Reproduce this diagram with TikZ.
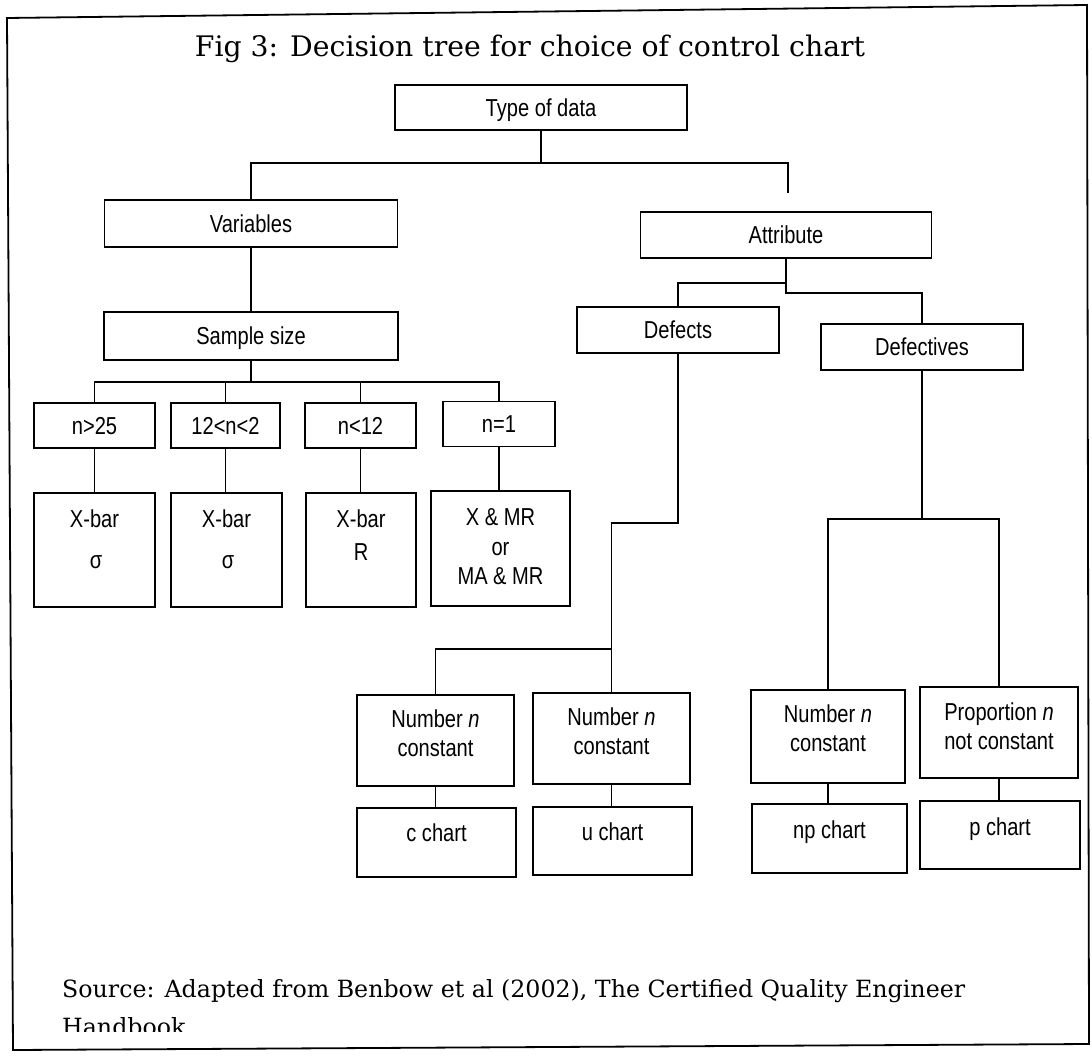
\documentclass[tikz,border=0pt]{standalone}
\usepackage{fontspec}
\setmainfont{DejaVu Serif}
\newfontfamily\boxfont{Liberation Sans}[FakeStretch=0.82]
\begin{document}
\begin{tikzpicture}[x=1pt,y=-1pt,
  bx/.style={draw, line width=1.5pt, rectangle, inner sep=0pt, text height=17.5pt, text depth=0pt,
             font=\boxfont\fontsize{24.5}{28}\selectfont},
  ln/.style={line width=1.3pt},
  lbl/.style={inner sep=0pt, anchor=base, font=\boxfont\fontsize{24.5}{28}\selectfont},
]
\useasboundingbox (0,0) rectangle (1092,1059);
\fill[white] (0,0) rectangle (1092,1059);
% outer frame (scanned, slightly skewed)
\draw[line width=1.8pt] (7,18) -- (1087,5) -- (1089,1044) -- (13,1050) -- cycle;

% title
\node[anchor=base, inner sep=0pt, font=\fontsize{28.3}{34}\selectfont] (title) at (530,57)
  {Fig 3: Decision tree for choice of control chart};

% top levels
\node[bx, minimum width=292, minimum height=45] (type) at (541,107.5) {Type of data};
\node[bx, minimum width=293, minimum height=47] (var)  at (251,223.5) {Variables};
\node[bx, minimum width=294, minimum height=48] (ss)   at (251,336)   {Sample size};
\node[bx, minimum width=291, minimum height=46] (attr) at (786,235)   {Attribute};
\node[bx, minimum width=202, minimum height=46] (def)  at (678,330)   {Defects};
\node[bx, minimum width=202, minimum height=46] (defv) at (922,347)   {Defectives};

% sample size classes
\node[bx, minimum width=121, minimum height=45] (n1) at (94.5,425.5) {n>25};
\node[bx, minimum width=109, minimum height=45] (n2) at (225.5,425.5) {12<n<2};
\node[bx, minimum width=111, minimum height=45] (n3) at (360.5,425.5) {n<12};
\node[bx, minimum width=112, minimum height=45] (n4) at (499,424) {n=1};

% variable charts
\node[bx, minimum width=121, minimum height=114] (xb1) at (94.5,550) {};
\node[bx, minimum width=111, minimum height=114] (xb2) at (226.5,550) {};
\node[bx, minimum width=110, minimum height=114] (xb3) at (361,550) {};
\node[bx, minimum width=139, minimum height=115] (xb4) at (500.5,548.5) {};
\node[lbl] (xb1a) at (94.5,527) {X-bar};
\node[lbl] (xb1b) at (96,568) {σ};
\node[lbl] (xb2a) at (226.5,527) {X-bar};
\node[lbl] (xb2b) at (228,568) {σ};
\node[lbl] (xb3a) at (361,527) {X-bar};
\node[lbl] (xb3b) at (361,560) {R};
\node[lbl] (xb4a) at (500.5,525) {X \& MR};
\node[lbl] (xb4b) at (500.5,555) {or};
\node[lbl] (xb4c) at (500.5,584) {MA \& MR};

% attribute sub-boxes
\node[bx, minimum width=157, minimum height=91] (nc1) at (435.5,740.5) {};
\node[bx, minimum width=157, minimum height=91] (nc2) at (611.5,738.5) {};
\node[bx, minimum width=154, minimum height=93] (nc3) at (828,736.5) {};
\node[bx, minimum width=158, minimum height=91] (nc4) at (999,732.5) {};
\node[lbl] (nc1a) at (435.5,727) {Number \textit{n}};
\node[lbl] (nc1b) at (435.5,756) {constant};
\node[lbl] (nc2a) at (611.5,725) {Number \textit{n}};
\node[lbl] (nc2b) at (611.5,754) {constant};
\node[lbl] (nc3a) at (828,722) {Number \textit{n}};
\node[lbl] (nc3b) at (828,751) {constant};
\node[lbl] (nc4a) at (999,720) {Proportion \textit{n}};
\node[lbl] (nc4b) at (999,749) {not constant};

\node[bx, minimum width=159, minimum height=69] (ch1) at (436.5,842.5) {};
\node[bx, minimum width=159, minimum height=68] (ch2) at (612.5,841) {};
\node[bx, minimum width=155, minimum height=69] (ch3) at (829.5,838.5) {};
\node[bx, minimum width=160, minimum height=68] (ch4) at (1000,835) {};
\node[lbl] (ch1t) at (436.5,841) {c chart};
\node[lbl] (ch2t) at (612.5,840) {u chart};
\node[lbl] (ch3t) at (829.5,838) {np chart};
\node[lbl] (ch4t) at (1000,835) {p chart};

% connectors
\coordinate (j0) at (541,163);
\coordinate (astub) at (788,193);
\draw[ln] (type.south) -- (j0);
\draw[ln] (var.north) |- (j0) -| (astub);
\draw[ln] (var.south) -- (ss.north);

\coordinate (j1) at (251,382);
\draw[ln] (ss.south) -- (j1);
\draw[ln] (n1.north) |- (j1) -| (n4.north);
\draw[ln] (n2.north) -- (n2.north |- j1);
\draw[ln] (n3.north) -- (n3.north |- j1);
\draw[ln] (n1.south) -- (xb1.north);
\draw[ln] (n2.south) -- (n2.south |- xb2.north);
\draw[ln] (n3.south) -- (n3.south |- xb3.north);
\draw[ln] (n4.south) -- (n4.south |- xb4.north);

\coordinate (ja) at (786,283);
\coordinate (jb) at (786,293);
\draw[ln] (attr.south) -- (jb) -| (defv.north);
\draw[ln] (ja) -| (def.north);

\coordinate (jc) at (678,523);
\coordinate (jd) at (611.5,649);
\draw[ln] (def.south) -- (jc) -| (nc2.north);
\draw[ln] (nc1.north) |- (jd);

\coordinate (je) at (922,519);
\draw[ln] (defv.south) -- (je);
\draw[ln] (nc3.north) |- (je) -| (nc4.north);

\draw[ln] (nc1.south) -- (nc1.south |- ch1.north);
\draw[ln] (nc2.south) -- (nc2.south |- ch2.north);
\draw[ln] (nc3.south) -- (nc3.south |- ch3.north);
\draw[ln] (nc4.south) -- (nc4.south |- ch4.north);

% source
\node[anchor=base west, inner sep=0pt, font=\fontsize{23.7}{28}\selectfont] (src) at (62,997)
  {Source: Adapted from Benbow et al (2002), The Certified Quality Engineer};
\begin{scope}
  \clip (0,0) rectangle (1092,1031);
  \node[anchor=base west, inner sep=0pt, font=\fontsize{23.7}{28}\selectfont] (hb) at (62,1035) {Handbook};
\end{scope}
\end{tikzpicture}
\end{document}
